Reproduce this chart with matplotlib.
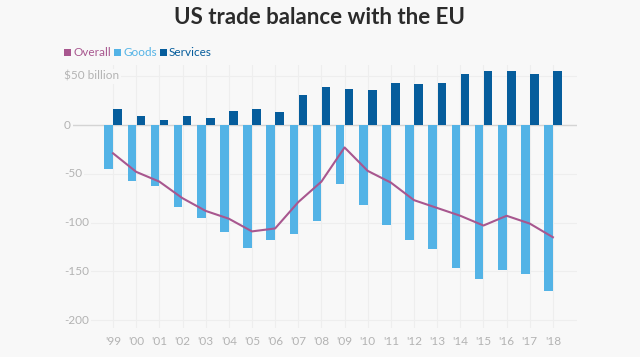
import matplotlib.pyplot as plt
from matplotlib.patches import Rectangle
from matplotlib.transforms import blended_transform_factory
import numpy as np

years = ["'99", "'00", "'01", "'02", "'03", "'04", "'05", "'06", "'07", "'08",
         "'09", "'10", "'11", "'12", "'13", "'14", "'15", "'16", "'17", "'18"]
goods = [-45, -57, -63, -84, -95, -110, -126, -118, -112, -98,
         -60, -82, -102, -118, -127, -147, -158, -149, -153, -170]
services = [16, 9, 5, 9, 7.5, 14, 16, 13, 31, 39,
            37, 36, 43, 42, 43, 52, 55, 55, 52, 55]
overall = [-29, -48, -58, -75, -88, -96, -109, -106, -79, -58,
           -23, -47, -59, -77, -85, -93, -103, -93, -101, -115]
ytick_vals = [50, 0, -50, -100, -150, -200]
ytick_labels = ["$50 billion", "0", "-50", "-100", "-150", "-200"]

bg = "#f8f8f8"
c_overall = "#a8578f"
c_goods = "#53b3e6"
c_services = "#065d9c"
c_tick = "#b3b3b3"

plt.rcParams['font.family'] = ['Lato', 'DejaVu Sans']

fig = plt.figure(figsize=(6.4, 3.57), dpi=100, facecolor=bg)
W, H = 640, 357
ax = fig.add_axes([73 / W, 1 - 328 / H, (577 - 73) / W, (328 - 65) / H])
ax.set_facecolor(bg)

x = np.arange(len(years))
ax.bar(x - 0.19, goods, width=0.37, color=c_goods, zorder=3)
ax.bar(x + 0.2, services, width=0.37, color=c_services, zorder=3)
ax.plot(x, overall, color=c_overall, lw=1.5, zorder=4)

ax.set_xlim(-1.73, 20.04)
ax.set_ylim(-208, 61.5)

for xi in x:
    ax.axvline(xi, color="#eeeeee", lw=0.8, zorder=1)
for v in ytick_vals:
    ax.axhline(v, color="#d4d4d4" if v == 0 else "#eeeeee", lw=1.0 if v == 0 else 0.8, zorder=1)

for s in ax.spines.values():
    s.set_visible(False)
ax.set_yticks([])
ax.set_xticks(x)
ax.set_xticklabels(years, color=c_tick, fontsize=8.5)
ax.tick_params(axis='x', length=0, pad=6)

tr = blended_transform_factory(fig.transFigure, ax.transData)
for v, lab in zip(ytick_vals, ytick_labels):
    ax.text(64 / W, v, lab, transform=tr, ha='left', va='center', color=c_tick,
            fontsize=8.5, zorder=5,
            bbox=dict(facecolor=bg, edgecolor='none', pad=1.5))

fig.text(320 / W, 1 - 18 / H, "US trade balance with the EU", ha='center', va='center',
         fontsize=16, fontweight='bold', color="#2b2b2b")

legend = [("Overall", c_overall, 64), ("Goods", c_goods, 114), ("Services", c_services, 160)]
for lab, col, px in legend:
    fig.patches.append(Rectangle((px / W, 1 - 56 / H), 7 / W, 7 / H, transform=fig.transFigure,
                                 facecolor=col, edgecolor='none'))
    fig.text((px + 9) / W, 1 - 52.5 / H, lab, ha='left', va='center', fontsize=8.5, color=col)

fig.savefig("out.png", dpi=100, facecolor=bg)
